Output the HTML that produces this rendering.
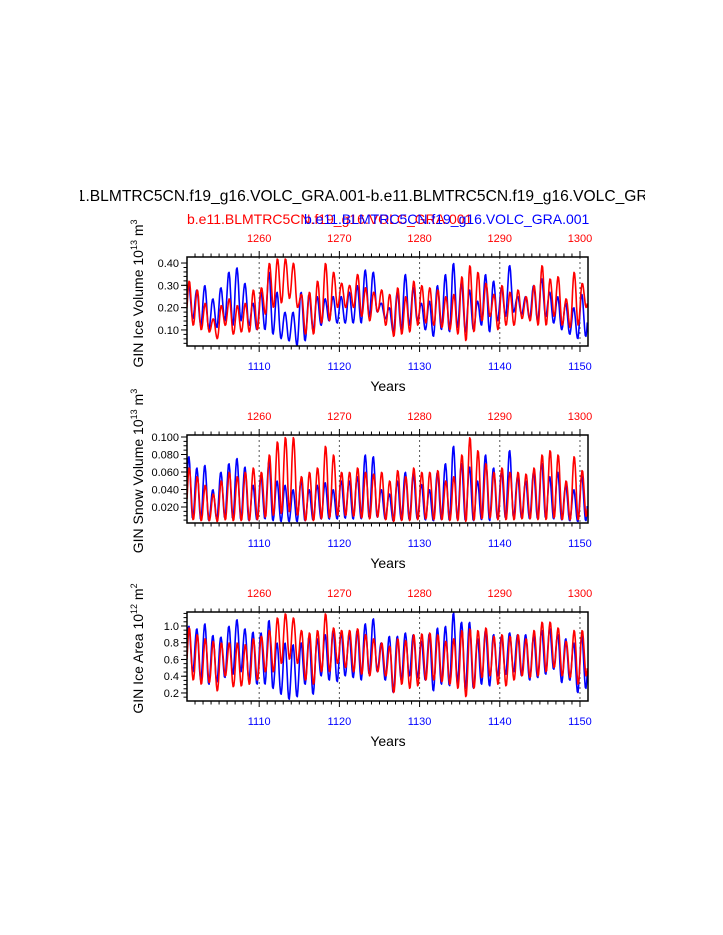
<!DOCTYPE html>
<html><head><meta charset="utf-8">
<style>
html,body{margin:0;padding:0;background:#fff;}
svg{display:block;font-family:"Liberation Sans",Arial,sans-serif;}
</style></head>
<body>
<svg id="chart" width="723" height="935" viewBox="0 0 723 935" xmlns="http://www.w3.org/2000/svg">
<text x="368" y="201" font-size="15.6" text-anchor="middle">b.e11.BLMTRC5CN.f19_g16.VOLC_GRA.001-b.e11.BLMTRC5CN.f19_g16.VOLC_GRA.001</text>
<rect x="0" y="180" width="80" height="30" fill="#fff"/>
<rect x="645" y="180" width="78" height="30" fill="#fff"/>
<text x="187" y="224" font-size="14" fill="#ff0000">b.e11.BLMTRC5CN.f19_g16.VOLC_GRA.001</text>
<text x="304" y="224" font-size="14" fill="#0000ff">b.e11.BLMTRC5CN.f19_g16.VOLC_GRA.001</text>
<g id="plots"></g>
</svg>
<script>
// ---- data: per-year seasonal maxima / minima, years 1101..1150 ----
const years = Array.from({length:50},(_,i)=>1101+i);
const iceVolBlueMax=[0.30,0.28,0.30,0.24,0.29,0.36,0.38,0.31,0.22,0.27,0.36,0.27,0.18,0.18,0.27,0.26,0.25,0.24,0.25,0.25,0.27,0.30,0.37,0.36,0.22,0.20,0.27,0.35,0.29,0.22,0.23,0.30,0.35,0.40,0.31,0.28,0.23,0.35,0.32,0.29,0.39,0.25,0.25,0.30,0.33,0.27,0.25,0.22,0.20,0.26];
const iceVolBlueMin=[0.15,0.12,0.10,0.11,0.14,0.12,0.14,0.12,0.10,0.10,0.08,0.06,0.05,0.03,0.05,0.10,0.12,0.14,0.13,0.13,0.13,0.13,0.16,0.18,0.15,0.09,0.10,0.12,0.14,0.10,0.07,0.10,0.09,0.11,0.09,0.10,0.12,0.09,0.14,0.16,0.18,0.17,0.15,0.14,0.16,0.13,0.10,0.08,0.06,0.07];
const iceVolRedMax=[0.32,0.28,0.22,0.15,0.21,0.24,0.21,0.22,0.28,0.29,0.40,0.42,0.42,0.40,0.26,0.27,0.32,0.40,0.36,0.31,0.30,0.35,0.29,0.27,0.28,0.26,0.29,0.25,0.32,0.30,0.29,0.28,0.25,0.26,0.34,0.39,0.36,0.31,0.26,0.30,0.27,0.28,0.25,0.30,0.39,0.33,0.34,0.24,0.36,0.31];
const iceVolRedMin=[0.12,0.10,0.09,0.06,0.12,0.08,0.09,0.09,0.10,0.17,0.20,0.22,0.24,0.20,0.08,0.08,0.13,0.14,0.20,0.20,0.20,0.16,0.14,0.18,0.12,0.07,0.08,0.09,0.12,0.13,0.12,0.11,0.10,0.08,0.05,0.09,0.14,0.16,0.10,0.12,0.12,0.15,0.14,0.12,0.12,0.16,0.12,0.11,0.12,0.20];
const snowBlueMax=[0.078,0.065,0.068,0.040,0.060,0.070,0.076,0.066,0.045,0.055,0.072,0.050,0.045,0.040,0.050,0.040,0.045,0.048,0.040,0.050,0.050,0.055,0.080,0.078,0.040,0.035,0.050,0.060,0.058,0.046,0.040,0.060,0.070,0.090,0.070,0.066,0.050,0.080,0.065,0.060,0.085,0.055,0.050,0.060,0.070,0.055,0.060,0.045,0.040,0.055];
const snowBlueMin=[0.006,0.005,0.004,0.006,0.007,0.006,0.005,0.004,0.005,0.006,0.004,0.003,0.003,0.003,0.004,0.005,0.006,0.006,0.006,0.007,0.006,0.006,0.007,0.008,0.006,0.004,0.005,0.005,0.006,0.005,0.004,0.005,0.004,0.005,0.004,0.004,0.005,0.004,0.006,0.007,0.008,0.007,0.006,0.006,0.007,0.006,0.005,0.004,0.003,0.004];
const snowRedMax=[0.065,0.055,0.045,0.035,0.050,0.060,0.055,0.060,0.065,0.060,0.080,0.095,0.100,0.100,0.055,0.060,0.065,0.090,0.080,0.060,0.060,0.065,0.060,0.058,0.060,0.050,0.062,0.055,0.065,0.060,0.060,0.062,0.050,0.055,0.080,0.100,0.085,0.070,0.060,0.065,0.060,0.060,0.058,0.065,0.080,0.085,0.080,0.050,0.078,0.062];
const snowRedMin=[0.005,0.004,0.004,0.003,0.005,0.004,0.004,0.004,0.005,0.008,0.010,0.012,0.014,0.010,0.004,0.004,0.006,0.007,0.010,0.010,0.009,0.007,0.006,0.008,0.005,0.003,0.004,0.004,0.005,0.006,0.005,0.005,0.004,0.004,0.003,0.004,0.006,0.007,0.005,0.005,0.005,0.006,0.006,0.005,0.005,0.007,0.005,0.005,0.005,0.009];
const areaBlueMax=[1.00,0.97,1.03,0.89,0.87,1.00,1.08,0.97,0.93,0.92,1.07,0.80,0.80,0.78,0.80,0.87,0.85,0.90,0.95,0.92,0.90,0.95,1.03,1.09,0.80,0.88,0.88,0.92,0.90,0.82,0.91,0.98,1.00,1.16,1.05,1.05,0.85,0.95,0.90,0.88,0.92,0.90,0.90,0.88,0.95,0.97,0.90,0.85,0.80,0.88];
const areaBlueMin=[0.45,0.35,0.30,0.33,0.38,0.42,0.45,0.35,0.30,0.30,0.25,0.18,0.12,0.15,0.30,0.18,0.40,0.35,0.33,0.40,0.38,0.35,0.42,0.45,0.35,0.20,0.35,0.40,0.38,0.35,0.22,0.30,0.28,0.32,0.25,0.25,0.30,0.28,0.40,0.42,0.45,0.40,0.35,0.38,0.42,0.48,0.32,0.35,0.20,0.25];
const areaRedMax=[0.98,0.90,0.85,0.82,0.80,0.80,0.80,0.78,0.85,0.88,0.95,1.10,1.15,1.10,0.95,0.92,0.95,1.15,0.98,0.95,0.95,0.97,0.90,0.85,0.80,0.76,0.85,0.83,0.90,0.91,0.92,0.90,0.82,0.85,0.95,0.97,0.95,0.98,0.88,0.90,0.88,0.90,0.85,0.95,1.05,1.05,0.98,0.82,0.95,0.95];
const areaRedMin=[0.35,0.30,0.32,0.22,0.40,0.27,0.28,0.30,0.35,0.45,0.45,0.55,0.60,0.55,0.35,0.30,0.45,0.45,0.55,0.50,0.45,0.42,0.40,0.45,0.40,0.20,0.30,0.25,0.28,0.35,0.35,0.33,0.30,0.25,0.15,0.25,0.38,0.40,0.30,0.28,0.35,0.40,0.38,0.40,0.45,0.50,0.40,0.38,0.30,0.40];
const bottomTicks=[1110,1120,1130,1140,1150];
const topTicks=[1260,1270,1280,1290,1300];
const volTicks=["0.10","0.20","0.30","0.40"];
const snowTicks=["0.020","0.040","0.060","0.080","0.100"];
const areaTicks=["0.2","0.4","0.6","0.8","1.0"];

const NS="http://www.w3.org/2000/svg";
const root=document.getElementById('plots');
function mk(tag,attrs,parent){const e=document.createElementNS(NS,tag);for(const k in attrs)e.setAttribute(k,attrs[k]);(parent||root).appendChild(e);return e;}

const X0=187,X1=588,YR0=1101,YR1=1151;
function xs(t){return X0+(t-YR0)/(YR1-YR0)*(X1-X0);}

function panel(cfg){
  const g=mk('g',{});
  
  
  const ys=v=>cfg.top+(cfg.ymax-v)/(cfg.ymax-cfg.ymin)*(cfg.bot-cfg.top);
  bottomTicks.forEach(t=>{
    const l=mk('line',{x1:xs(t),x2:xs(t),y1:cfg.top,y2:cfg.bot,stroke:'#555','stroke-width':1,'stroke-dasharray':'2,3'},g);
    
    
  });
  const clip='clip-'+cfg.name;
  const cp=mk('clipPath',{id:clip},g);mk('rect',{x:X0,y:cfg.top,width:X1-X0,height:cfg.bot-cfg.top},cp);
  [[cfg.bmax,cfg.bmin,'#0000ff','blue-series',0.22],[cfg.rmax,cfg.rmin,'#ff0000','red-series',0.28]].forEach(([mx,mn,col,nm,ph])=>{
    const pts=[];
    for(let i=0;i<years.length;i++){
      const nmx=i+1<years.length?mx[i+1]:mx[i];
      const prevMn=i>0?mn[i-1]:mn[i];
      for(let k=0;k<12;k++){
        const f=k/12; const t=years[i]+f;
        let v;
        const tp=ph, tt=ph+0.5;
        if(f<tp){const a=(f+1-tt)/(tp+1-tt);v=prevMn+(mx[i]-prevMn)*(1-Math.cos(Math.PI*a))/2;}
        else if(f<tt){const a=(f-tp)/(tt-tp);v=mx[i]+(mn[i]-mx[i])*(1-Math.cos(Math.PI*a))/2;}
        else{const a=(f-tt)/(tp+1-tt);v=mn[i]+(nmx-mn[i])*(1-Math.cos(Math.PI*a))/2;}
        pts.push(xs(t).toFixed(1)+','+ys(v).toFixed(1));
      }
    }
    const p=mk('polyline',{points:pts.join(' '),fill:'none',stroke:col,'stroke-width':1.6,'stroke-linejoin':'round','clip-path':'url(#'+clip+')'},g);
    
    
  });
  const fr=mk('rect',{x:X0,y:cfg.top,width:X1-X0,height:cfg.bot-cfg.top,fill:'none',stroke:'#000','stroke-width':1.5},g);
  
  
  for(let t=1102;t<=1150;t++){
    const maj=t%10===0;const L=maj?6:3.5;
    mk('line',{x1:xs(t),x2:xs(t),y1:cfg.bot,y2:cfg.bot+L,stroke:'#000','stroke-width':1},g);
    mk('line',{x1:xs(t),x2:xs(t),y1:cfg.top,y2:cfg.top-L,stroke:'#000','stroke-width':1},g);
  }
  bottomTicks.forEach(t=>{
    const tx=mk('text',{x:xs(t),y:cfg.bot+24,'font-size':11,fill:'#0000ff','text-anchor':'middle'},g);tx.textContent=t;
    
    
  });
  topTicks.forEach(t=>{
    const tx=mk('text',{x:xs(t-150),y:cfg.top-15,'font-size':11,fill:'#ff0000','text-anchor':'middle'},g);tx.textContent=t;
    
    
  });
  for(let v=cfg.ymin;v<=cfg.ymax+1e-9;v+=cfg.minor){
    const vv=Math.round(v/cfg.minor)*cfg.minor; if(vv<cfg.ymin||vv>cfg.ymax)continue;
    mk('line',{x1:X0,x2:X0-3.5,y1:ys(vv),y2:ys(vv),stroke:'#000','stroke-width':1},g);
  }
  cfg.ticks.forEach(s=>{
    const v=parseFloat(s);
    mk('line',{x1:X0,x2:X0-6,y1:ys(v),y2:ys(v),stroke:'#000','stroke-width':1},g);
    const tx=mk('text',{x:X0-8,y:ys(v)+4,'font-size':11,'text-anchor':'end'},g);tx.textContent=s;
    
    
  });
  const xt=mk('text',{x:388,y:cfg.bot+45,'font-size':14,'text-anchor':'middle'},g);xt.textContent='Years';
  
  
  const cy=(cfg.top+cfg.bot)/2-8;
  const yt=mk('text',{x:0,y:0,'font-size':14,'text-anchor':'middle',transform:'translate(143,'+cy+') rotate(-90)'},g);
  yt.innerHTML=cfg.ylabel+' 10<tspan font-size="9" dy="-6">'+cfg.exp+'</tspan><tspan dy="6"> m</tspan><tspan font-size="9" dy="-6">'+cfg.unit+'</tspan>';
  
  
}
panel({name:'ice-volume-panel',top:257,bot:346,ymin:0.028,ymax:0.427,minor:0.02,ticks:volTicks,bmax:iceVolBlueMax,bmin:iceVolBlueMin,rmax:iceVolRedMax,rmin:iceVolRedMin,ylabel:'GIN Ice Volume',exp:'13',unit:'3'});
panel({name:'snow-volume-panel',top:435,bot:523,ymin:0.0017,ymax:0.1023,minor:0.005,ticks:snowTicks,bmax:snowBlueMax,bmin:snowBlueMin,rmax:snowRedMax,rmin:snowRedMin,ylabel:'GIN Snow Volume',exp:'13',unit:'3'});
panel({name:'ice-area-panel',top:612,bot:701,ymin:0.104,ymax:1.167,minor:0.05,ticks:areaTicks,bmax:areaBlueMax,bmin:areaBlueMin,rmax:areaRedMax,rmin:areaRedMin,ylabel:'GIN Ice Area',exp:'12',unit:'2'});
</script>
</body></html>
